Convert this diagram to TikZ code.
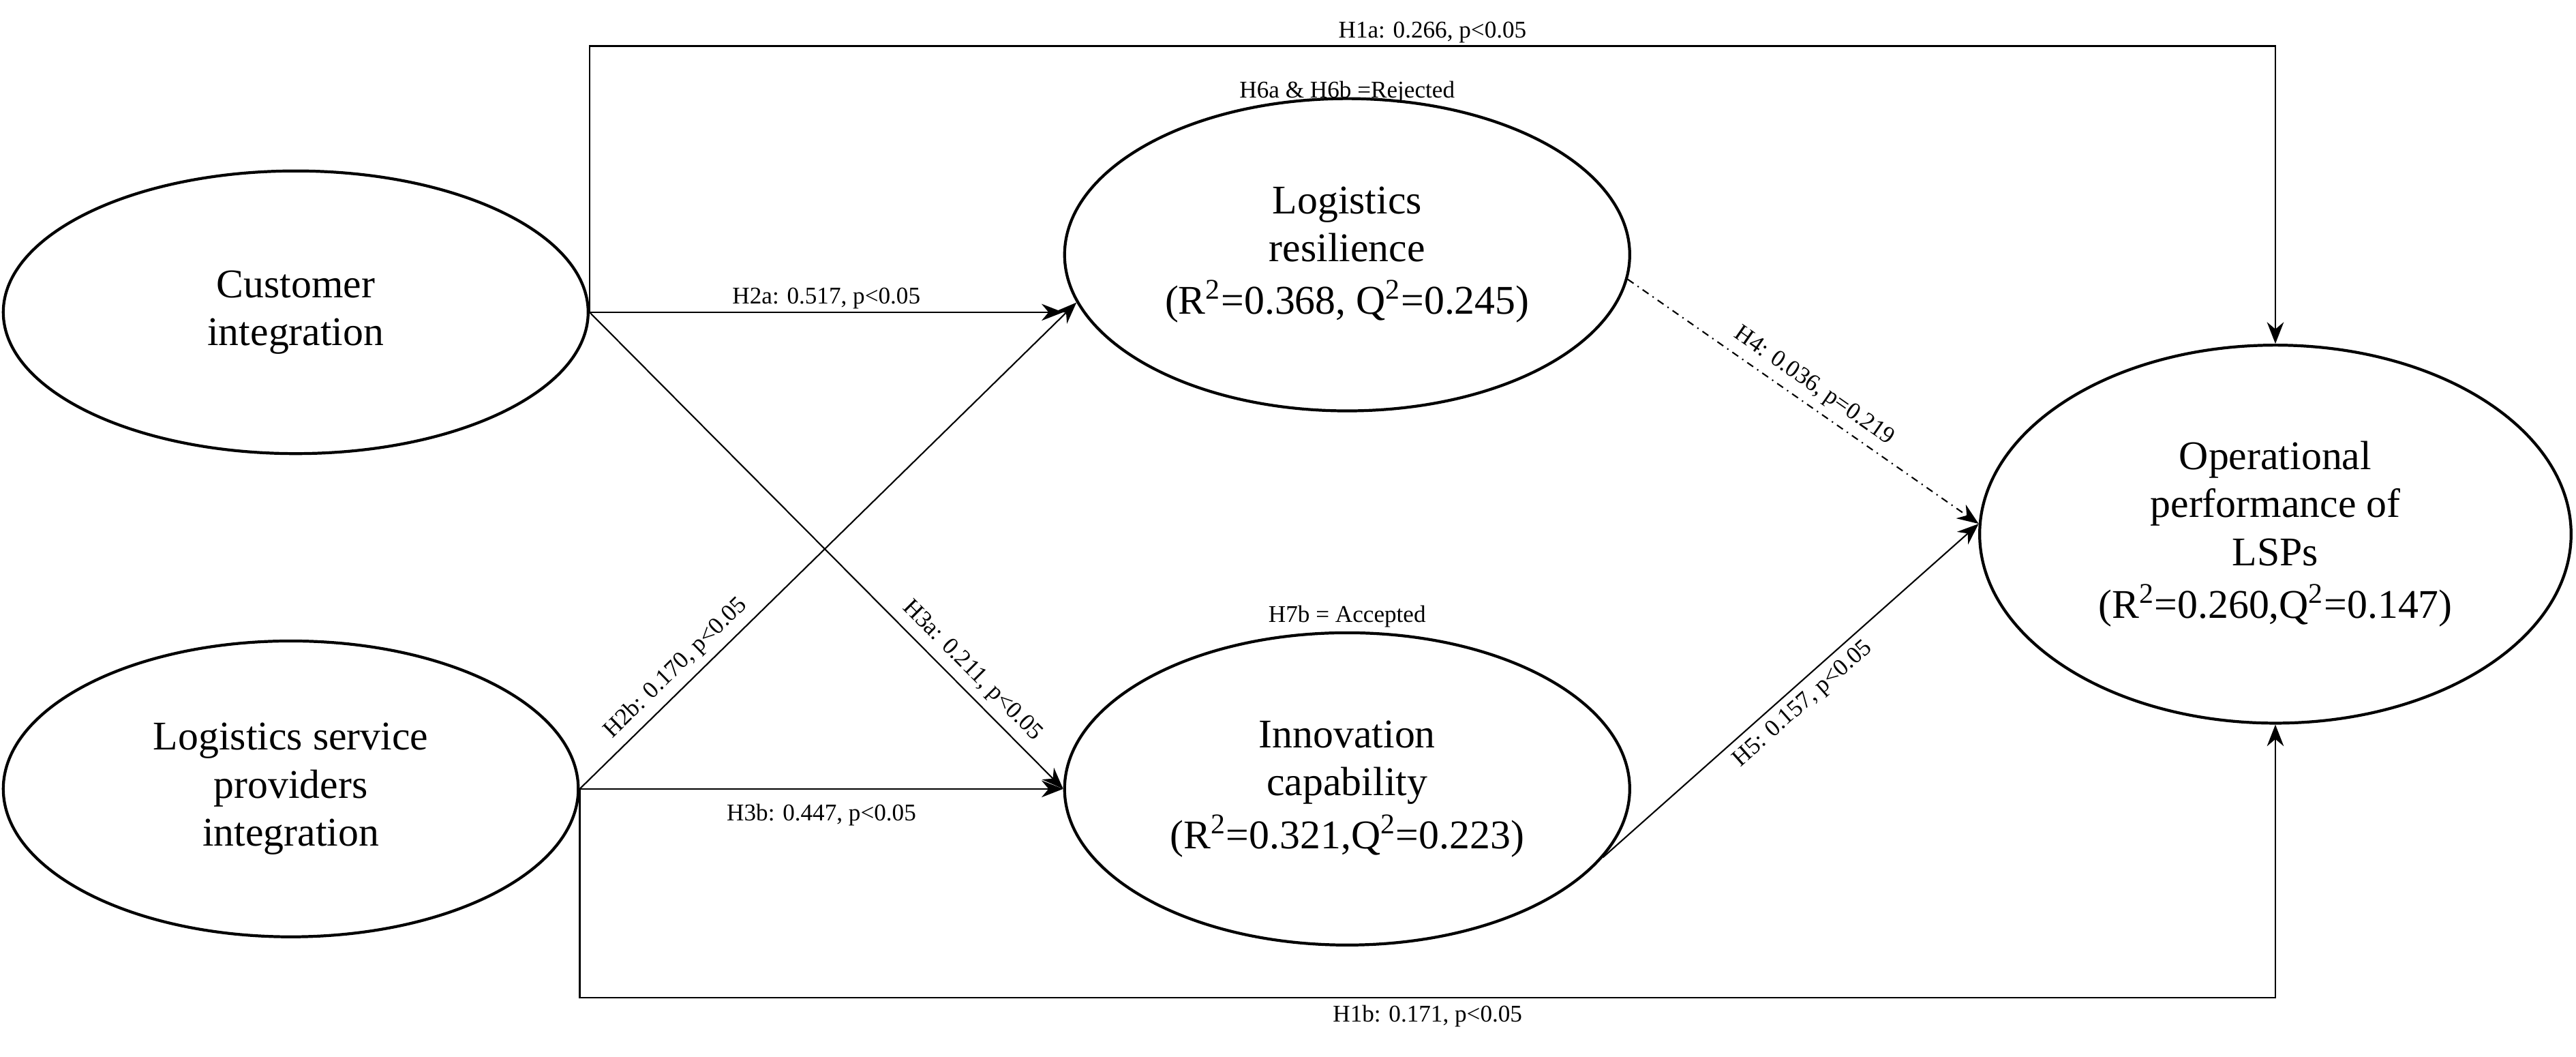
\documentclass[tikz,border=0pt]{standalone}
\usepackage{fontspec}
\setmainfont{Liberation Serif}
\usetikzlibrary{shapes.geometric,arrows.meta}
\begin{document}
\begin{tikzpicture}[x=0.0241cm,y=-0.0241cm,
  lv/.style={ellipse,draw,line width=1.2pt,font=\fontsize{17}{20}\selectfont,align=center,inner sep=0pt},
  lab/.style={font=\fontsize{10}{12}\selectfont,inner sep=1pt},
  con/.style={line width=0.6pt,-{Stealth[length=9pt,width=7pt]}}]
\useasboundingbox (0,0) rectangle (1568,643);
\node[lv,minimum width=356*0.0241cm,minimum height=172*0.0241cm] (ci) at (180,190) {Customer\\integration};
\node[lv,minimum width=350*0.0241cm,minimum height=180*0.0241cm] (lsp) at (177,480) {Logistics service\\providers\\integration};
\node[lv,minimum width=344*0.0241cm,minimum height=190*0.0241cm] (lr) at (820,155) {Logistics\\resilience\\[2pt](R\textsuperscript{2}=0.368, Q\textsuperscript{2}=0.245)};
\node[lv,minimum width=344*0.0241cm,minimum height=190*0.0241cm] (ic) at (820,480) {Innovation\\capability\\[2pt](R\textsuperscript{2}=0.321,Q\textsuperscript{2}=0.223)};
\node[lv,minimum width=360*0.0241cm,minimum height=230*0.0241cm] (op) at (1385,325) {Operational\\performance of\\LSPs\\[2pt](R\textsuperscript{2}=0.260,Q\textsuperscript{2}=0.147)};
\coordinate (cs) at (ci.east);
\coordinate (ls) at (lsp.east);
\coordinate (t1) at (1385,28);
\coordinate (b1) at (1385,607);
\draw[con] (cs) |- (t1) node[lab,pos=0.75,above] {H1a: 0.266, p<0.05} -- (op.north);
\draw[con] (cs) -- (cs -| lr.west) node[lab,midway,above] {H2a: 0.517, p<0.05};
\draw[con] (cs) -- (ic.west) node[lab,pos=0.78,above=2pt,sloped] {H3a: 0.211, p<0.05};
\draw[con] (ls) -- (lr.190) node[lab,pos=0.22,above=2pt,sloped] {H2b: 0.170, p<0.05};
\draw[con] (ls) -- (ic.west) node[lab,midway,below=5pt] {H3b: 0.447, p<0.05};
\draw[con] (ls) |- (b1) node[lab,pos=0.75,below=2pt] {H1b: 0.171, p<0.05} -- (op.south);
\draw[con,dash dot] (lr.-5) -- (op.178) node[lab,midway,above=2pt,sloped] {H4: 0.036, p=0.219};
\draw[con] (ic.-15) -- (op.178) node[lab,midway,below=2pt,sloped] {H5: 0.157, p<0.05};
\node[lab] (h6) at (820,56) {H6a \& H6b =Rejected};
\node[lab] (h7) at (820,375) {H7b = Accepted};
\end{tikzpicture}
\end{document}
